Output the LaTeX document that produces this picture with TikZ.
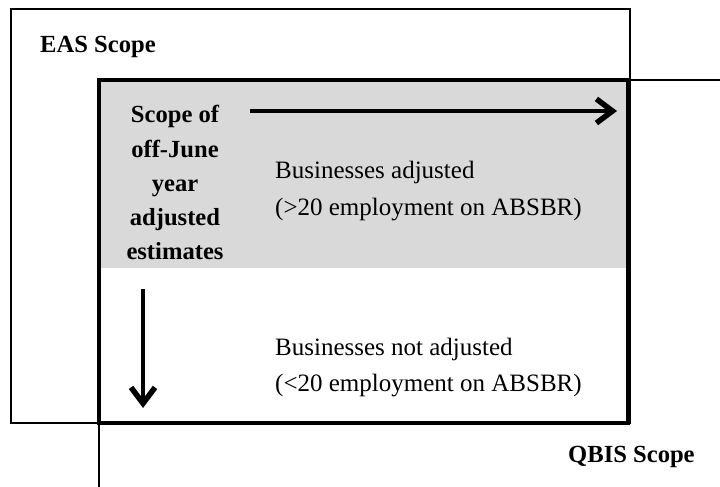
\documentclass[tikz,border=0pt]{standalone}
\usepackage{fontspec}
\setmainfont{Liberation Serif}
\usetikzlibrary{arrows.meta}
\definecolor{boxgray}{RGB}{217,217,217}
\newcommand{\clines}[1]{\vtop{\baselineskip=34.25bp\halign{\hfil##\hfil\cr#1\crcr}}}
\newcommand{\llines}[2]{\vtop{\baselineskip=36.5bp\hbox{#1}\hbox{#2}}}
\begin{document}
\begin{tikzpicture}[x=1bp,y=-1bp,
  thinline/.style={line width=1.6bp},
  thickline/.style={line width=3.6bp},
  bigarrow/.style={line width=4.2bp,-{Straight Barb[length=16bp,width=24bp,line width=5.5bp]}},
  regtext/.style={inner sep=0pt,font=\fontsize{25bp}{30bp}\selectfont},
  boldtext/.style={inner sep=0pt,font=\fontsize{24.6bp}{29bp}\selectfont\bfseries}]
\useasboundingbox (0,0) rectangle (720,487);
% outer EAS box
\draw[thinline] (11,9) rectangle (630,423);
% gray region of QBIS box
\fill[boxgray] (99,80) rectangle (628,268);
% QBIS box
\draw[thickline] (99,80) rectangle (628,423);
% extension lines
\coordinate (qtr) at (628,80);
\coordinate (qtrend) at (720,80);
\coordinate (qbl) at (99,423);
\coordinate (qblend) at (99,487);
\draw[thinline] (qtr) -- (qtrend);
\draw[thinline] (qbl) -- (qblend);
% arrows
\coordinate (hs) at (250,111);
\coordinate (he) at (617,111);
\coordinate (vs) at (143,289);
\coordinate (ve) at (143,408);
\draw[bigarrow] (hs) -- (he);
\draw[bigarrow] (vs) -- (ve);
% texts
\node[boldtext,anchor=base west] (eas) at (40,53) {EAS Scope};
\node[boldtext,anchor=base west] (qbis) at (568,462) {QBIS Scope};
\node[boldtext,anchor=base] (scope) at (175,123) {\clines{Scope of\cr off-June\cr year\cr adjusted\cr estimates}};
\node[regtext,anchor=base west] (adj) at (275,179) {\llines{Businesses adjusted}{(>20 employment on ABSBR)}};
\node[regtext,anchor=base west] (notadj) at (275,355) {\llines{Businesses not adjusted}{(<20 employment on ABSBR)}};
\end{tikzpicture}
\end{document}
